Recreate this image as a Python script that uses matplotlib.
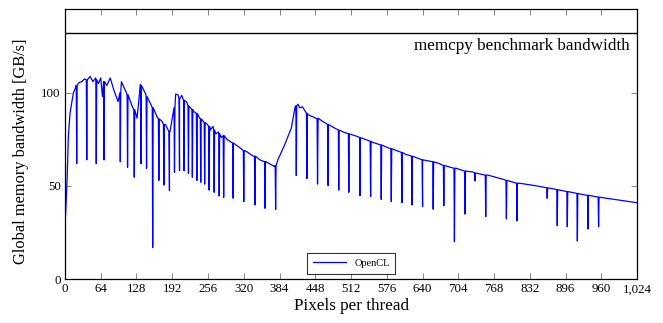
import matplotlib
matplotlib.use("Agg")
import matplotlib.pyplot as plt

plt.rcParams['font.family'] = ['Liberation Serif', 'DejaVu Serif']
plt.rcParams['mathtext.fontset'] = 'stix'

# smooth part of the OpenCL curve (pixels per thread, GB/s)
base_x = [1, 4, 6, 9, 15, 20, 25, 30, 35, 40, 45, 50, 55, 60, 64, 67, 70, 75,
          81, 88, 95, 101, 110, 120, 129, 135, 145, 155, 165, 174, 180, 187,
          195, 198, 202, 205, 209, 218, 230, 240, 248, 255, 260, 265, 270,
          275, 280, 285, 290, 301, 313, 325, 337, 349, 360, 375, 381, 393,
          405, 412, 417, 420, 425, 435, 445, 453, 462, 471, 480, 489, 498,
          507, 524, 550, 580, 610, 640, 670, 700, 730, 756, 785, 815, 845,
          875, 900, 930, 960, 990, 1024]
base_y = [34, 55, 76, 89, 100, 103.5, 105.5, 106, 107.5, 107, 108.8, 106, 108,
          105, 108, 98, 106, 104, 108, 101, 95.3, 106, 100, 93, 86.4, 104.6,
          99, 93, 87, 84.6, 83, 79.2, 91.8, 99.3, 99, 97, 98.7, 95, 90, 87,
          84.6, 83, 80, 82, 78, 79, 76, 77, 75, 73, 70.5, 68.5, 66, 64, 63,
          60.4, 64, 72, 81, 92.6, 93.9, 92, 92.5, 88.2, 87, 86.4, 84.5, 82.8,
          81.5, 80.1, 79, 78, 76.5, 73.5, 70.3, 67, 64, 62, 59.5, 57.5, 55.9,
          53.5, 51.4, 50, 48.4, 47, 45.2, 43.8, 42.5, 41]

# sharp drops: position, bottom of the drop, level around it
dip_x = [21, 39, 56, 70, 99, 112, 124, 136, 146, 157, 168, 177, 187, 196, 205,
         213, 221, 228, 236, 243, 250, 258, 267, 276, 284, 301, 320, 340, 358,
         377, 414, 433, 452, 471, 490, 508, 528, 547, 566, 584, 603, 621, 640,
         659, 678, 697, 716, 734, 753, 790, 809, 863, 881, 899, 917, 936, 955]
dip_low = [62, 64, 62, 64, 63, 60, 54.7, 62, 59.5, 17, 53, 50.5, 47.5, 57.3,
           58.2, 58.2, 56.8, 54.7, 53, 52, 51, 47.8, 46.6, 44.6, 43.9, 43.4,
           41.6, 39.8, 38, 37.4, 55.6, 54, 51, 50.2, 47.8, 46.6, 44.8, 44.3,
           42.8, 41.6, 41, 39.8, 38.9, 37.5, 39.4, 20.1, 34.9, 52.7, 33.5,
           32.3, 31.2, 43.4, 28.7, 28.1, 20.4, 26.9, 28.1]
dip_top = [104, 107, 107, 106, 100, 99, 91, 104, 98, 92, 86, 83, 79, 92, 97,
           96, 93, 91, 89, 86, 84, 82, 80, 78, 77, 73, 69, 66, 63, 61, 93, 89,
           86, 83, 80, 78, 76, 74, 72, 70, 68, 66, 64, 63, 61, 59.5, 58, 57,
           55.8, 53, 51.5, 49, 48, 47, 46, 45, 44]

memcpy_bw = 132

pts = list(zip(base_x, base_y))
for x, lo, top in zip(dip_x, dip_low, dip_top):
    pts += [(x - 0.8, top), (x, lo), (x + 0.8, top)]
pts.sort()
xs = [p[0] for p in pts]
ys = [p[1] for p in pts]

fig = plt.figure(figsize=(6.63, 3.23), dpi=100)
ax = fig.add_axes([0.098, 0.136, 0.863, 0.836])

ax.plot(xs, ys, color='#0000ff', lw=0.9, label='OpenCL')
ax.axhline(memcpy_bw, color='black', lw=1.0)
ax.text(1010, memcpy_bw - 2.5, 'memcpy benchmark bandwidth', ha='right',
        va='top', fontsize=12.3)

ax.set_xlim(0, 1024)
ax.set_ylim(0, 145)
xt = list(range(0, 1025, 64))
ax.set_xticks(xt)
ax.set_xticklabels(['1,024' if v == 1024 else str(v) for v in xt])
ax.set_yticks([0, 50, 100])
ax.tick_params(direction='in', length=4, width=0.6, color='0.45',
               top=True, right=True, labelsize=9.3, pad=3)
for s in ax.spines.values():
    s.set_linewidth(0.9)

ax.set_xlabel('Pixels per thread', fontsize=12.3, labelpad=2)
ax.set_ylabel('Global memory bandwidth [GB/s]', fontsize=11.8)
ax.yaxis.set_label_coords(-0.062, 0.475)

leg = ax.legend(loc='lower center', bbox_to_anchor=(0.5, 0.0), fontsize=7.5,
                frameon=True, fancybox=False, edgecolor='black',
                handlelength=3.2, borderpad=0.55, borderaxespad=0.5)
leg.get_frame().set_linewidth(0.8)

fig.savefig('out.png', dpi=100)
